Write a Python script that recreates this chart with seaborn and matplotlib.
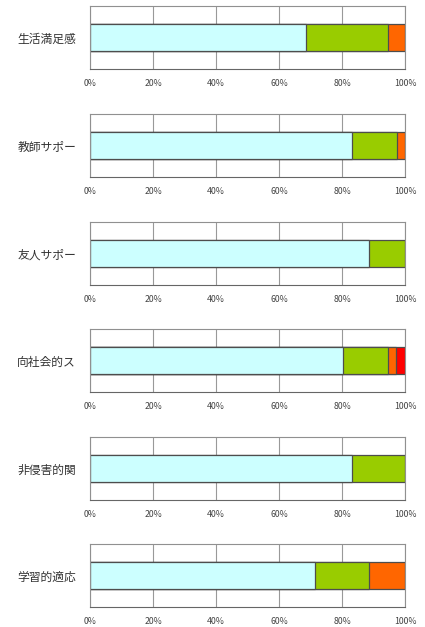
import matplotlib
matplotlib.use("Agg")
import matplotlib.pyplot as plt
import pandas as pd
import seaborn as sns

categories = ["生活満足感", "教師サポー", "友人サポー", "向社会的ス", "非侵害的関", "学習的適応"]
seg1 = [68.6, 83.3, 88.7, 80.4, 83.3, 71.4]   # cyan
seg2 = [26.1, 14.1, 11.3, 14.3, 16.7, 17.3]   # green
seg3 = [5.3, 2.6, 0.0, 2.4, 0.0, 11.3]        # orange
seg4 = [0.0, 0.0, 0.0, 2.9, 0.0, 0.0]         # red
tick_labels = ["0%", "20%", "40%", "60%", "80%", "100%"]

colors = ["#CCFFFF", "#99CC00", "#FF6600", "#FF0000"]

sns.set_style("white")
plt.rcParams["font.family"] = ["Noto Sans CJK JP", "DejaVu Sans"]

fig = plt.figure(figsize=(4.25, 6.27), dpi=100)

W, H = 425, 627
tops = [6, 114, 222, 329, 437, 544]  # pixel top of each panel
panel_h = 63

for i, cat in enumerate(categories):
    ax = fig.add_axes([90 / W, 1 - (tops[i] + panel_h) / H, 315 / W, panel_h / H])
    segs = [seg1[i], seg2[i], seg3[i], seg4[i]]
    cum = pd.Series(segs).cumsum().tolist()
    # draw cumulative bars from the longest down so the segments stack
    for k in range(3, -1, -1):
        if segs[k] <= 0:
            continue
        df = pd.DataFrame({"cat": [cat], "val": [cum[k]]})
        sns.barplot(data=df, x="val", y="cat", orient="h", color=colors[k],
                    saturation=1, width=0.42, edgecolor="#4D4D4D",
                    linewidth=0.9, ax=ax)
    ax.set_xlim(0, 100)
    ax.set_ylim(0.5, -0.5)
    ax.set_xticks([0, 20, 40, 60, 80, 100])
    ax.set_xticklabels(tick_labels, fontsize=6.3, color="#444444")
    ax.tick_params(axis="y", labelsize=8.5, length=0, pad=10, labelcolor="#333333")
    ax.tick_params(axis="x", direction="out", length=3, width=0.6, color="#666666", pad=4)
    ax.xaxis.grid(True, color="#999999", linewidth=0.8)
    ax.set_axisbelow(True)
    ax.set_xlabel("")
    ax.set_ylabel("")
    for s in ax.spines.values():
        s.set_color("#909090")
        s.set_linewidth(0.8)
    ax.spines["bottom"].set_color("#666666")

fig.savefig("out.png", dpi=100)
